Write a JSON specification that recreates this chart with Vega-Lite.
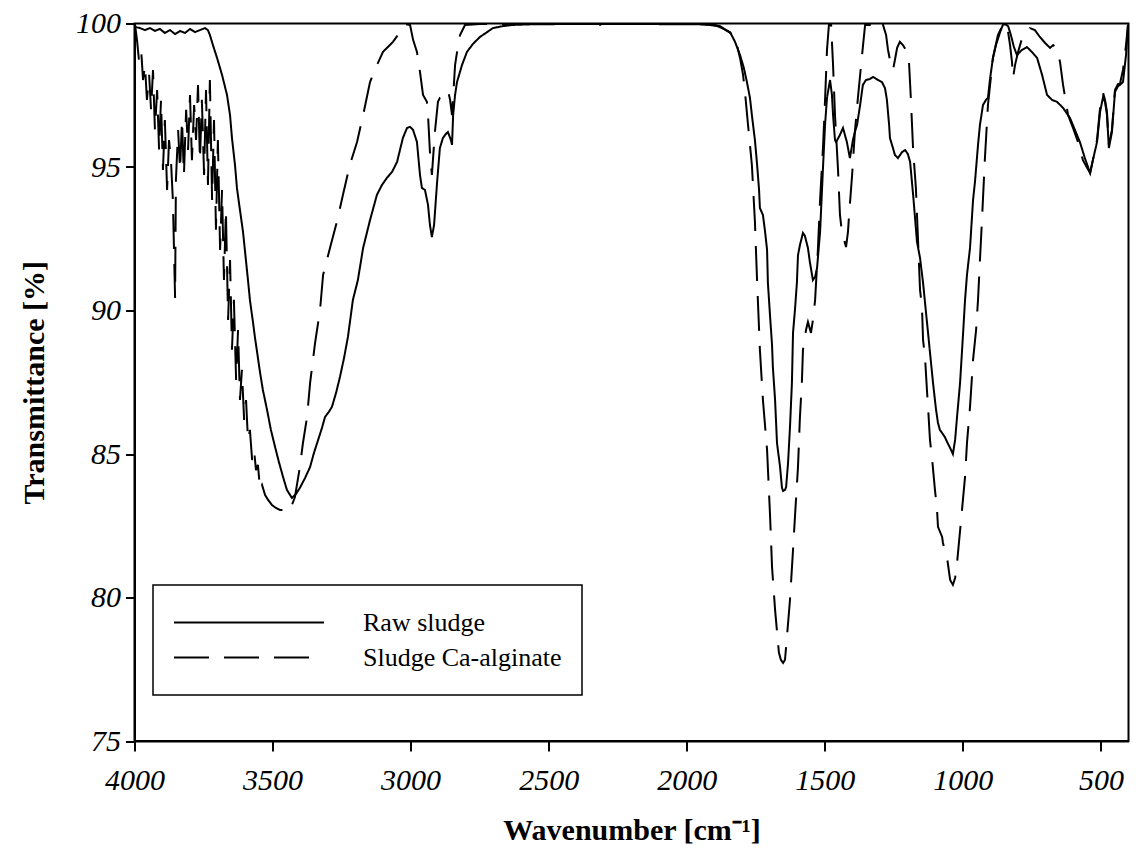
{
  "$schema": "https://vega.github.io/schema/vega-lite/v6.json",
  "width": 994,
  "height": 717.5,
  "autosize": {"type": "none"},
  "padding": {"left": 134.5, "top": 23.5, "right": 7.5, "bottom": 125},
  "config": {
    "font": "Liberation Serif",
    "view": {"stroke": "black", "strokeWidth": 2},
    "axis": {
      "grid": false,
      "domainColor": "black",
      "domainWidth": 2,
      "tickColor": "black",
      "tickWidth": 2,
      "labelColor": "black",
      "titleColor": "black",
      "labelFont": "Liberation Serif",
      "titleFont": "Liberation Serif",
      "labelFontStyle": "italic",
      "labelFontSize": 30,
      "titleFontSize": 30,
      "titleFontWeight": "bold",
      "labelFlush": false
    },
    "legend": {
      "strokeColor": "black",
      "strokeWidth": 1.5
    }
  },
  "data": {
    "values": [
      {"sample":"Raw sludge","wavenumber":3998,"transmittance":99.88},
      {"sample":"Raw sludge","wavenumber":3980,"transmittance":99.84},
      {"sample":"Raw sludge","wavenumber":3962,"transmittance":99.77},
      {"sample":"Raw sludge","wavenumber":3944,"transmittance":99.84},
      {"sample":"Raw sludge","wavenumber":3926,"transmittance":99.74},
      {"sample":"Raw sludge","wavenumber":3908,"transmittance":99.81},
      {"sample":"Raw sludge","wavenumber":3890,"transmittance":99.67},
      {"sample":"Raw sludge","wavenumber":3871,"transmittance":99.77},
      {"sample":"Raw sludge","wavenumber":3853,"transmittance":99.63},
      {"sample":"Raw sludge","wavenumber":3835,"transmittance":99.74},
      {"sample":"Raw sludge","wavenumber":3817,"transmittance":99.67},
      {"sample":"Raw sludge","wavenumber":3799,"transmittance":99.81},
      {"sample":"Raw sludge","wavenumber":3781,"transmittance":99.70},
      {"sample":"Raw sludge","wavenumber":3763,"transmittance":99.77},
      {"sample":"Raw sludge","wavenumber":3745,"transmittance":99.84},
      {"sample":"Raw sludge","wavenumber":3734,"transmittance":99.77},
      {"sample":"Raw sludge","wavenumber":3727,"transmittance":99.60},
      {"sample":"Raw sludge","wavenumber":3716,"transmittance":99.25},
      {"sample":"Raw sludge","wavenumber":3701,"transmittance":98.80},
      {"sample":"Raw sludge","wavenumber":3683,"transmittance":98.21},
      {"sample":"Raw sludge","wavenumber":3665,"transmittance":97.51},
      {"sample":"Raw sludge","wavenumber":3654,"transmittance":96.81},
      {"sample":"Raw sludge","wavenumber":3647,"transmittance":96.01},
      {"sample":"Raw sludge","wavenumber":3636,"transmittance":95.07},
      {"sample":"Raw sludge","wavenumber":3629,"transmittance":94.27},
      {"sample":"Raw sludge","wavenumber":3618,"transmittance":93.50},
      {"sample":"Raw sludge","wavenumber":3607,"transmittance":92.74},
      {"sample":"Raw sludge","wavenumber":3589,"transmittance":91.06},
      {"sample":"Raw sludge","wavenumber":3582,"transmittance":90.37},
      {"sample":"Raw sludge","wavenumber":3571,"transmittance":89.60},
      {"sample":"Raw sludge","wavenumber":3564,"transmittance":89.08},
      {"sample":"Raw sludge","wavenumber":3545,"transmittance":87.82},
      {"sample":"Raw sludge","wavenumber":3535,"transmittance":87.23},
      {"sample":"Raw sludge","wavenumber":3520,"transmittance":86.54},
      {"sample":"Raw sludge","wavenumber":3506,"transmittance":85.84},
      {"sample":"Raw sludge","wavenumber":3491,"transmittance":85.25},
      {"sample":"Raw sludge","wavenumber":3477,"transmittance":84.72},
      {"sample":"Raw sludge","wavenumber":3462,"transmittance":84.20},
      {"sample":"Raw sludge","wavenumber":3448,"transmittance":83.75},
      {"sample":"Raw sludge","wavenumber":3430,"transmittance":83.47},
      {"sample":"Raw sludge","wavenumber":3415,"transmittance":83.61},
      {"sample":"Raw sludge","wavenumber":3401,"transmittance":83.82},
      {"sample":"Raw sludge","wavenumber":3382,"transmittance":84.17},
      {"sample":"Raw sludge","wavenumber":3364,"transmittance":84.55},
      {"sample":"Raw sludge","wavenumber":3350,"transmittance":85.04},
      {"sample":"Raw sludge","wavenumber":3335,"transmittance":85.49},
      {"sample":"Raw sludge","wavenumber":3321,"transmittance":85.91},
      {"sample":"Raw sludge","wavenumber":3310,"transmittance":86.29},
      {"sample":"Raw sludge","wavenumber":3296,"transmittance":86.47},
      {"sample":"Raw sludge","wavenumber":3285,"transmittance":86.64},
      {"sample":"Raw sludge","wavenumber":3270,"transmittance":87.13},
      {"sample":"Raw sludge","wavenumber":3256,"transmittance":87.68},
      {"sample":"Raw sludge","wavenumber":3241,"transmittance":88.35},
      {"sample":"Raw sludge","wavenumber":3227,"transmittance":89.08},
      {"sample":"Raw sludge","wavenumber":3209,"transmittance":90.37},
      {"sample":"Raw sludge","wavenumber":3191,"transmittance":91.06},
      {"sample":"Raw sludge","wavenumber":3172,"transmittance":92.18},
      {"sample":"Raw sludge","wavenumber":3147,"transmittance":93.15},
      {"sample":"Raw sludge","wavenumber":3122,"transmittance":94.03},
      {"sample":"Raw sludge","wavenumber":3104,"transmittance":94.37},
      {"sample":"Raw sludge","wavenumber":3086,"transmittance":94.62},
      {"sample":"Raw sludge","wavenumber":3067,"transmittance":94.83},
      {"sample":"Raw sludge","wavenumber":3049,"transmittance":95.18},
      {"sample":"Raw sludge","wavenumber":3028,"transmittance":96.01},
      {"sample":"Raw sludge","wavenumber":3013,"transmittance":96.36},
      {"sample":"Raw sludge","wavenumber":3002,"transmittance":96.40},
      {"sample":"Raw sludge","wavenumber":2991,"transmittance":96.29},
      {"sample":"Raw sludge","wavenumber":2977,"transmittance":95.87},
      {"sample":"Raw sludge","wavenumber":2966,"transmittance":94.72},
      {"sample":"Raw sludge","wavenumber":2959,"transmittance":94.27},
      {"sample":"Raw sludge","wavenumber":2948,"transmittance":94.20},
      {"sample":"Raw sludge","wavenumber":2937,"transmittance":93.68},
      {"sample":"Raw sludge","wavenumber":2930,"transmittance":92.98},
      {"sample":"Raw sludge","wavenumber":2923,"transmittance":92.56},
      {"sample":"Raw sludge","wavenumber":2915,"transmittance":92.98},
      {"sample":"Raw sludge","wavenumber":2904,"transmittance":94.48},
      {"sample":"Raw sludge","wavenumber":2894,"transmittance":95.66},
      {"sample":"Raw sludge","wavenumber":2883,"transmittance":96.01},
      {"sample":"Raw sludge","wavenumber":2875,"transmittance":96.12},
      {"sample":"Raw sludge","wavenumber":2865,"transmittance":96.22},
      {"sample":"Raw sludge","wavenumber":2854,"transmittance":95.94},
      {"sample":"Raw sludge","wavenumber":2850,"transmittance":95.77},
      {"sample":"Raw sludge","wavenumber":2846,"transmittance":96.81},
      {"sample":"Raw sludge","wavenumber":2839,"transmittance":97.51},
      {"sample":"Raw sludge","wavenumber":2832,"transmittance":97.96},
      {"sample":"Raw sludge","wavenumber":2814,"transmittance":98.55},
      {"sample":"Raw sludge","wavenumber":2796,"transmittance":99.01},
      {"sample":"Raw sludge","wavenumber":2774,"transmittance":99.29},
      {"sample":"Raw sludge","wavenumber":2749,"transmittance":99.53},
      {"sample":"Raw sludge","wavenumber":2723,"transmittance":99.70},
      {"sample":"Raw sludge","wavenumber":2702,"transmittance":99.84},
      {"sample":"Raw sludge","wavenumber":2665,"transmittance":99.91},
      {"sample":"Raw sludge","wavenumber":2629,"transmittance":99.95},
      {"sample":"Raw sludge","wavenumber":2568,"transmittance":99.97},
      {"sample":"Raw sludge","wavenumber":2459,"transmittance":99.98},
      {"sample":"Raw sludge","wavenumber":2314,"transmittance":99.98},
      {"sample":"Raw sludge","wavenumber":2133,"transmittance":99.98},
      {"sample":"Raw sludge","wavenumber":1952,"transmittance":99.97},
      {"sample":"Raw sludge","wavenumber":1916,"transmittance":99.95},
      {"sample":"Raw sludge","wavenumber":1890,"transmittance":99.91},
      {"sample":"Raw sludge","wavenumber":1872,"transmittance":99.84},
      {"sample":"Raw sludge","wavenumber":1843,"transmittance":99.70},
      {"sample":"Raw sludge","wavenumber":1825,"transmittance":99.36},
      {"sample":"Raw sludge","wavenumber":1807,"transmittance":98.90},
      {"sample":"Raw sludge","wavenumber":1793,"transmittance":98.45},
      {"sample":"Raw sludge","wavenumber":1782,"transmittance":97.96},
      {"sample":"Raw sludge","wavenumber":1771,"transmittance":97.41},
      {"sample":"Raw sludge","wavenumber":1764,"transmittance":96.81},
      {"sample":"Raw sludge","wavenumber":1753,"transmittance":95.94},
      {"sample":"Raw sludge","wavenumber":1745,"transmittance":95.07},
      {"sample":"Raw sludge","wavenumber":1738,"transmittance":94.20},
      {"sample":"Raw sludge","wavenumber":1735,"transmittance":93.57},
      {"sample":"Raw sludge","wavenumber":1724,"transmittance":93.33},
      {"sample":"Raw sludge","wavenumber":1717,"transmittance":92.81},
      {"sample":"Raw sludge","wavenumber":1709,"transmittance":92.11},
      {"sample":"Raw sludge","wavenumber":1706,"transmittance":90.96},
      {"sample":"Raw sludge","wavenumber":1698,"transmittance":89.78},
      {"sample":"Raw sludge","wavenumber":1691,"transmittance":88.80},
      {"sample":"Raw sludge","wavenumber":1688,"transmittance":88.03},
      {"sample":"Raw sludge","wavenumber":1680,"transmittance":86.88},
      {"sample":"Raw sludge","wavenumber":1673,"transmittance":85.38},
      {"sample":"Raw sludge","wavenumber":1662,"transmittance":84.55},
      {"sample":"Raw sludge","wavenumber":1655,"transmittance":83.82},
      {"sample":"Raw sludge","wavenumber":1651,"transmittance":83.71},
      {"sample":"Raw sludge","wavenumber":1644,"transmittance":83.75},
      {"sample":"Raw sludge","wavenumber":1640,"transmittance":83.85},
      {"sample":"Raw sludge","wavenumber":1633,"transmittance":84.69},
      {"sample":"Raw sludge","wavenumber":1626,"transmittance":85.94},
      {"sample":"Raw sludge","wavenumber":1619,"transmittance":87.48},
      {"sample":"Raw sludge","wavenumber":1615,"transmittance":89.22},
      {"sample":"Raw sludge","wavenumber":1608,"transmittance":90.02},
      {"sample":"Raw sludge","wavenumber":1601,"transmittance":90.96},
      {"sample":"Raw sludge","wavenumber":1597,"transmittance":91.93},
      {"sample":"Raw sludge","wavenumber":1590,"transmittance":92.28},
      {"sample":"Raw sludge","wavenumber":1579,"transmittance":92.70},
      {"sample":"Raw sludge","wavenumber":1572,"transmittance":92.60},
      {"sample":"Raw sludge","wavenumber":1561,"transmittance":92.18},
      {"sample":"Raw sludge","wavenumber":1554,"transmittance":91.69},
      {"sample":"Raw sludge","wavenumber":1543,"transmittance":91.06},
      {"sample":"Raw sludge","wavenumber":1535,"transmittance":91.17},
      {"sample":"Raw sludge","wavenumber":1528,"transmittance":91.48},
      {"sample":"Raw sludge","wavenumber":1517,"transmittance":92.74},
      {"sample":"Raw sludge","wavenumber":1506,"transmittance":95.07},
      {"sample":"Raw sludge","wavenumber":1499,"transmittance":96.47},
      {"sample":"Raw sludge","wavenumber":1492,"transmittance":97.41},
      {"sample":"Raw sludge","wavenumber":1481,"transmittance":98.03},
      {"sample":"Raw sludge","wavenumber":1474,"transmittance":97.51},
      {"sample":"Raw sludge","wavenumber":1470,"transmittance":96.81},
      {"sample":"Raw sludge","wavenumber":1463,"transmittance":95.94},
      {"sample":"Raw sludge","wavenumber":1459,"transmittance":95.87},
      {"sample":"Raw sludge","wavenumber":1445,"transmittance":96.12},
      {"sample":"Raw sludge","wavenumber":1434,"transmittance":96.36},
      {"sample":"Raw sludge","wavenumber":1420,"transmittance":95.87},
      {"sample":"Raw sludge","wavenumber":1409,"transmittance":95.31},
      {"sample":"Raw sludge","wavenumber":1398,"transmittance":95.94},
      {"sample":"Raw sludge","wavenumber":1391,"transmittance":96.22},
      {"sample":"Raw sludge","wavenumber":1383,"transmittance":96.47},
      {"sample":"Raw sludge","wavenumber":1372,"transmittance":97.16},
      {"sample":"Raw sludge","wavenumber":1362,"transmittance":97.86},
      {"sample":"Raw sludge","wavenumber":1351,"transmittance":98.03},
      {"sample":"Raw sludge","wavenumber":1336,"transmittance":98.07},
      {"sample":"Raw sludge","wavenumber":1325,"transmittance":98.14},
      {"sample":"Raw sludge","wavenumber":1318,"transmittance":98.10},
      {"sample":"Raw sludge","wavenumber":1307,"transmittance":98.03},
      {"sample":"Raw sludge","wavenumber":1293,"transmittance":97.96},
      {"sample":"Raw sludge","wavenumber":1282,"transmittance":97.75},
      {"sample":"Raw sludge","wavenumber":1275,"transmittance":97.34},
      {"sample":"Raw sludge","wavenumber":1267,"transmittance":96.47},
      {"sample":"Raw sludge","wavenumber":1264,"transmittance":96.01},
      {"sample":"Raw sludge","wavenumber":1253,"transmittance":95.66},
      {"sample":"Raw sludge","wavenumber":1246,"transmittance":95.42},
      {"sample":"Raw sludge","wavenumber":1235,"transmittance":95.31},
      {"sample":"Raw sludge","wavenumber":1220,"transmittance":95.52},
      {"sample":"Raw sludge","wavenumber":1209,"transmittance":95.59},
      {"sample":"Raw sludge","wavenumber":1199,"transmittance":95.45},
      {"sample":"Raw sludge","wavenumber":1191,"transmittance":95.18},
      {"sample":"Raw sludge","wavenumber":1180,"transmittance":94.03},
      {"sample":"Raw sludge","wavenumber":1166,"transmittance":92.39},
      {"sample":"Raw sludge","wavenumber":1155,"transmittance":91.83},
      {"sample":"Raw sludge","wavenumber":1144,"transmittance":90.96},
      {"sample":"Raw sludge","wavenumber":1126,"transmittance":89.22},
      {"sample":"Raw sludge","wavenumber":1108,"transmittance":87.48},
      {"sample":"Raw sludge","wavenumber":1097,"transmittance":86.54},
      {"sample":"Raw sludge","wavenumber":1090,"transmittance":86.08},
      {"sample":"Raw sludge","wavenumber":1083,"transmittance":85.84},
      {"sample":"Raw sludge","wavenumber":1075,"transmittance":85.73},
      {"sample":"Raw sludge","wavenumber":1065,"transmittance":85.59},
      {"sample":"Raw sludge","wavenumber":1057,"transmittance":85.42},
      {"sample":"Raw sludge","wavenumber":1046,"transmittance":85.21},
      {"sample":"Raw sludge","wavenumber":1036,"transmittance":85.00},
      {"sample":"Raw sludge","wavenumber":1028,"transmittance":85.49},
      {"sample":"Raw sludge","wavenumber":1021,"transmittance":86.29},
      {"sample":"Raw sludge","wavenumber":1010,"transmittance":87.48},
      {"sample":"Raw sludge","wavenumber":999,"transmittance":89.22},
      {"sample":"Raw sludge","wavenumber":992,"transmittance":90.37},
      {"sample":"Raw sludge","wavenumber":985,"transmittance":91.24},
      {"sample":"Raw sludge","wavenumber":974,"transmittance":92.18},
      {"sample":"Raw sludge","wavenumber":963,"transmittance":93.85},
      {"sample":"Raw sludge","wavenumber":956,"transmittance":94.48},
      {"sample":"Raw sludge","wavenumber":945,"transmittance":95.77},
      {"sample":"Raw sludge","wavenumber":938,"transmittance":96.47},
      {"sample":"Raw sludge","wavenumber":927,"transmittance":97.16},
      {"sample":"Raw sludge","wavenumber":916,"transmittance":97.34},
      {"sample":"Raw sludge","wavenumber":909,"transmittance":97.41},
      {"sample":"Raw sludge","wavenumber":902,"transmittance":98.03},
      {"sample":"Raw sludge","wavenumber":891,"transmittance":98.80},
      {"sample":"Raw sludge","wavenumber":880,"transmittance":99.25},
      {"sample":"Raw sludge","wavenumber":865,"transmittance":99.70},
      {"sample":"Raw sludge","wavenumber":855,"transmittance":99.95},
      {"sample":"Raw sludge","wavenumber":847,"transmittance":99.98},
      {"sample":"Raw sludge","wavenumber":836,"transmittance":99.91},
      {"sample":"Raw sludge","wavenumber":826,"transmittance":99.60},
      {"sample":"Raw sludge","wavenumber":815,"transmittance":99.18},
      {"sample":"Raw sludge","wavenumber":804,"transmittance":98.90},
      {"sample":"Raw sludge","wavenumber":786,"transmittance":99.08},
      {"sample":"Raw sludge","wavenumber":768,"transmittance":99.18},
      {"sample":"Raw sludge","wavenumber":750,"transmittance":99.01},
      {"sample":"Raw sludge","wavenumber":731,"transmittance":98.80},
      {"sample":"Raw sludge","wavenumber":713,"transmittance":98.21},
      {"sample":"Raw sludge","wavenumber":695,"transmittance":97.51},
      {"sample":"Raw sludge","wavenumber":677,"transmittance":97.34},
      {"sample":"Raw sludge","wavenumber":659,"transmittance":97.27},
      {"sample":"Raw sludge","wavenumber":637,"transmittance":97.06},
      {"sample":"Raw sludge","wavenumber":612,"transmittance":96.71},
      {"sample":"Raw sludge","wavenumber":594,"transmittance":96.29},
      {"sample":"Raw sludge","wavenumber":576,"transmittance":95.87},
      {"sample":"Raw sludge","wavenumber":558,"transmittance":95.31},
      {"sample":"Raw sludge","wavenumber":539,"transmittance":94.79},
      {"sample":"Raw sludge","wavenumber":529,"transmittance":95.24},
      {"sample":"Raw sludge","wavenumber":514,"transmittance":95.87},
      {"sample":"Raw sludge","wavenumber":503,"transmittance":96.92},
      {"sample":"Raw sludge","wavenumber":492,"transmittance":97.44},
      {"sample":"Raw sludge","wavenumber":485,"transmittance":97.27},
      {"sample":"Raw sludge","wavenumber":478,"transmittance":96.81},
      {"sample":"Raw sludge","wavenumber":471,"transmittance":95.66},
      {"sample":"Raw sludge","wavenumber":460,"transmittance":96.22},
      {"sample":"Raw sludge","wavenumber":449,"transmittance":97.61},
      {"sample":"Raw sludge","wavenumber":438,"transmittance":97.82},
      {"sample":"Raw sludge","wavenumber":431,"transmittance":97.86},
      {"sample":"Raw sludge","wavenumber":420,"transmittance":97.96},
      {"sample":"Raw sludge","wavenumber":409,"transmittance":98.90},
      {"sample":"Raw sludge","wavenumber":402,"transmittance":99.91},

      {"sample":"Sludge Ca-alginate","wavenumber":3998,"transmittance":99.95},
      {"sample":"Sludge Ca-alginate","wavenumber":3991,"transmittance":99.43},
      {"sample":"Sludge Ca-alginate","wavenumber":3984,"transmittance":98.73},
      {"sample":"Sludge Ca-alginate","wavenumber":3976,"transmittance":99.08},
      {"sample":"Sludge Ca-alginate","wavenumber":3969,"transmittance":98.03},
      {"sample":"Sludge Ca-alginate","wavenumber":3962,"transmittance":98.55},
      {"sample":"Sludge Ca-alginate","wavenumber":3955,"transmittance":97.34},
      {"sample":"Sludge Ca-alginate","wavenumber":3947,"transmittance":98.21},
      {"sample":"Sludge Ca-alginate","wavenumber":3940,"transmittance":96.99},
      {"sample":"Sludge Ca-alginate","wavenumber":3933,"transmittance":98.38},
      {"sample":"Sludge Ca-alginate","wavenumber":3926,"transmittance":96.29},
      {"sample":"Sludge Ca-alginate","wavenumber":3918,"transmittance":97.68},
      {"sample":"Sludge Ca-alginate","wavenumber":3911,"transmittance":95.59},
      {"sample":"Sludge Ca-alginate","wavenumber":3904,"transmittance":97.34},
      {"sample":"Sludge Ca-alginate","wavenumber":3897,"transmittance":94.90},
      {"sample":"Sludge Ca-alginate","wavenumber":3890,"transmittance":96.64},
      {"sample":"Sludge Ca-alginate","wavenumber":3882,"transmittance":94.20},
      {"sample":"Sludge Ca-alginate","wavenumber":3875,"transmittance":95.94},
      {"sample":"Sludge Ca-alginate","wavenumber":3868,"transmittance":95.24},
      {"sample":"Sludge Ca-alginate","wavenumber":3861,"transmittance":93.85},
      {"sample":"Sludge Ca-alginate","wavenumber":3853,"transmittance":90.44},
      {"sample":"Sludge Ca-alginate","wavenumber":3850,"transmittance":94.55},
      {"sample":"Sludge Ca-alginate","wavenumber":3842,"transmittance":96.29},
      {"sample":"Sludge Ca-alginate","wavenumber":3835,"transmittance":94.90},
      {"sample":"Sludge Ca-alginate","wavenumber":3828,"transmittance":96.64},
      {"sample":"Sludge Ca-alginate","wavenumber":3821,"transmittance":94.72},
      {"sample":"Sludge Ca-alginate","wavenumber":3813,"transmittance":96.99},
      {"sample":"Sludge Ca-alginate","wavenumber":3806,"transmittance":95.59},
      {"sample":"Sludge Ca-alginate","wavenumber":3799,"transmittance":97.51},
      {"sample":"Sludge Ca-alginate","wavenumber":3792,"transmittance":95.24},
      {"sample":"Sludge Ca-alginate","wavenumber":3784,"transmittance":97.16},
      {"sample":"Sludge Ca-alginate","wavenumber":3777,"transmittance":95.94},
      {"sample":"Sludge Ca-alginate","wavenumber":3770,"transmittance":97.86},
      {"sample":"Sludge Ca-alginate","wavenumber":3763,"transmittance":95.24},
      {"sample":"Sludge Ca-alginate","wavenumber":3756,"transmittance":97.34},
      {"sample":"Sludge Ca-alginate","wavenumber":3748,"transmittance":94.72},
      {"sample":"Sludge Ca-alginate","wavenumber":3741,"transmittance":97.68},
      {"sample":"Sludge Ca-alginate","wavenumber":3734,"transmittance":94.37},
      {"sample":"Sludge Ca-alginate","wavenumber":3727,"transmittance":98.03},
      {"sample":"Sludge Ca-alginate","wavenumber":3719,"transmittance":93.85},
      {"sample":"Sludge Ca-alginate","wavenumber":3712,"transmittance":96.64},
      {"sample":"Sludge Ca-alginate","wavenumber":3705,"transmittance":92.81},
      {"sample":"Sludge Ca-alginate","wavenumber":3698,"transmittance":95.94},
      {"sample":"Sludge Ca-alginate","wavenumber":3690,"transmittance":92.11},
      {"sample":"Sludge Ca-alginate","wavenumber":3683,"transmittance":94.20},
      {"sample":"Sludge Ca-alginate","wavenumber":3676,"transmittance":91.06},
      {"sample":"Sludge Ca-alginate","wavenumber":3669,"transmittance":93.50},
      {"sample":"Sludge Ca-alginate","wavenumber":3661,"transmittance":89.67},
      {"sample":"Sludge Ca-alginate","wavenumber":3654,"transmittance":91.76},
      {"sample":"Sludge Ca-alginate","wavenumber":3647,"transmittance":88.63},
      {"sample":"Sludge Ca-alginate","wavenumber":3640,"transmittance":90.37},
      {"sample":"Sludge Ca-alginate","wavenumber":3632,"transmittance":87.58},
      {"sample":"Sludge Ca-alginate","wavenumber":3625,"transmittance":89.32},
      {"sample":"Sludge Ca-alginate","wavenumber":3618,"transmittance":86.88},
      {"sample":"Sludge Ca-alginate","wavenumber":3611,"transmittance":87.93},
      {"sample":"Sludge Ca-alginate","wavenumber":3603,"transmittance":86.19},
      {"sample":"Sludge Ca-alginate","wavenumber":3596,"transmittance":86.88},
      {"sample":"Sludge Ca-alginate","wavenumber":3589,"transmittance":85.49},
      {"sample":"Sludge Ca-alginate","wavenumber":3582,"transmittance":85.84},
      {"sample":"Sludge Ca-alginate","wavenumber":3574,"transmittance":84.79},
      {"sample":"Sludge Ca-alginate","wavenumber":3567,"transmittance":85.14},
      {"sample":"Sludge Ca-alginate","wavenumber":3560,"transmittance":84.44},
      {"sample":"Sludge Ca-alginate","wavenumber":3553,"transmittance":84.62},
      {"sample":"Sludge Ca-alginate","wavenumber":3545,"transmittance":83.75},
      {"sample":"Sludge Ca-alginate","wavenumber":3538,"transmittance":83.92},
      {"sample":"Sludge Ca-alginate","wavenumber":3527,"transmittance":83.57},
      {"sample":"Sludge Ca-alginate","wavenumber":3516,"transmittance":83.40},
      {"sample":"Sludge Ca-alginate","wavenumber":3502,"transmittance":83.22},
      {"sample":"Sludge Ca-alginate","wavenumber":3488,"transmittance":83.12},
      {"sample":"Sludge Ca-alginate","wavenumber":3473,"transmittance":83.05},
      {"sample":"Sludge Ca-alginate","wavenumber":3455,"transmittance":83.05},
      {"sample":"Sludge Ca-alginate","wavenumber":3444,"transmittance":82.98},
      {"sample":"Sludge Ca-alginate","wavenumber":3430,"transmittance":83.22},
      {"sample":"Sludge Ca-alginate","wavenumber":3419,"transmittance":83.50},
      {"sample":"Sludge Ca-alginate","wavenumber":3401,"transmittance":84.55},
      {"sample":"Sludge Ca-alginate","wavenumber":3390,"transmittance":85.38},
      {"sample":"Sludge Ca-alginate","wavenumber":3375,"transmittance":86.29},
      {"sample":"Sludge Ca-alginate","wavenumber":3364,"transmittance":87.48},
      {"sample":"Sludge Ca-alginate","wavenumber":3346,"transmittance":88.87},
      {"sample":"Sludge Ca-alginate","wavenumber":3328,"transmittance":90.02},
      {"sample":"Sludge Ca-alginate","wavenumber":3317,"transmittance":91.24},
      {"sample":"Sludge Ca-alginate","wavenumber":3292,"transmittance":92.18},
      {"sample":"Sludge Ca-alginate","wavenumber":3267,"transmittance":93.09},
      {"sample":"Sludge Ca-alginate","wavenumber":3245,"transmittance":94.03},
      {"sample":"Sludge Ca-alginate","wavenumber":3220,"transmittance":95.07},
      {"sample":"Sludge Ca-alginate","wavenumber":3194,"transmittance":95.87},
      {"sample":"Sludge Ca-alginate","wavenumber":3172,"transmittance":96.81},
      {"sample":"Sludge Ca-alginate","wavenumber":3147,"transmittance":97.96},
      {"sample":"Sludge Ca-alginate","wavenumber":3122,"transmittance":98.55},
      {"sample":"Sludge Ca-alginate","wavenumber":3100,"transmittance":99.01},
      {"sample":"Sludge Ca-alginate","wavenumber":3075,"transmittance":99.25},
      {"sample":"Sludge Ca-alginate","wavenumber":3064,"transmittance":99.36},
      {"sample":"Sludge Ca-alginate","wavenumber":3046,"transmittance":99.60},
      {"sample":"Sludge Ca-alginate","wavenumber":3031,"transmittance":99.88},
      {"sample":"Sludge Ca-alginate","wavenumber":3020,"transmittance":99.98},
      {"sample":"Sludge Ca-alginate","wavenumber":3002,"transmittance":99.95},
      {"sample":"Sludge Ca-alginate","wavenumber":2991,"transmittance":99.43},
      {"sample":"Sludge Ca-alginate","wavenumber":2977,"transmittance":99.01},
      {"sample":"Sludge Ca-alginate","wavenumber":2966,"transmittance":98.31},
      {"sample":"Sludge Ca-alginate","wavenumber":2955,"transmittance":97.51},
      {"sample":"Sludge Ca-alginate","wavenumber":2941,"transmittance":97.27},
      {"sample":"Sludge Ca-alginate","wavenumber":2937,"transmittance":96.81},
      {"sample":"Sludge Ca-alginate","wavenumber":2930,"transmittance":95.52},
      {"sample":"Sludge Ca-alginate","wavenumber":2923,"transmittance":94.72},
      {"sample":"Sludge Ca-alginate","wavenumber":2912,"transmittance":96.22},
      {"sample":"Sludge Ca-alginate","wavenumber":2901,"transmittance":97.27},
      {"sample":"Sludge Ca-alginate","wavenumber":2894,"transmittance":97.41},
      {"sample":"Sludge Ca-alginate","wavenumber":2879,"transmittance":97.51},
      {"sample":"Sludge Ca-alginate","wavenumber":2865,"transmittance":97.68},
      {"sample":"Sludge Ca-alginate","wavenumber":2857,"transmittance":97.34},
      {"sample":"Sludge Ca-alginate","wavenumber":2850,"transmittance":96.81},
      {"sample":"Sludge Ca-alginate","wavenumber":2839,"transmittance":98.55},
      {"sample":"Sludge Ca-alginate","wavenumber":2828,"transmittance":99.25},
      {"sample":"Sludge Ca-alginate","wavenumber":2821,"transmittance":99.60},
      {"sample":"Sludge Ca-alginate","wavenumber":2803,"transmittance":99.95},
      {"sample":"Sludge Ca-alginate","wavenumber":2749,"transmittance":99.98},
      {"sample":"Sludge Ca-alginate","wavenumber":2604,"transmittance":99.98},
      {"sample":"Sludge Ca-alginate","wavenumber":2459,"transmittance":99.98},
      {"sample":"Sludge Ca-alginate","wavenumber":2343,"transmittance":99.98},
      {"sample":"Sludge Ca-alginate","wavenumber":2332,"transmittance":99.84},
      {"sample":"Sludge Ca-alginate","wavenumber":2321,"transmittance":99.91},
      {"sample":"Sludge Ca-alginate","wavenumber":2310,"transmittance":99.98},
      {"sample":"Sludge Ca-alginate","wavenumber":2133,"transmittance":99.98},
      {"sample":"Sludge Ca-alginate","wavenumber":1952,"transmittance":99.98},
      {"sample":"Sludge Ca-alginate","wavenumber":1898,"transmittance":99.95},
      {"sample":"Sludge Ca-alginate","wavenumber":1879,"transmittance":99.91},
      {"sample":"Sludge Ca-alginate","wavenumber":1858,"transmittance":99.77},
      {"sample":"Sludge Ca-alginate","wavenumber":1832,"transmittance":99.60},
      {"sample":"Sludge Ca-alginate","wavenumber":1818,"transmittance":99.25},
      {"sample":"Sludge Ca-alginate","wavenumber":1807,"transmittance":98.80},
      {"sample":"Sludge Ca-alginate","wavenumber":1796,"transmittance":98.21},
      {"sample":"Sludge Ca-alginate","wavenumber":1789,"transmittance":97.61},
      {"sample":"Sludge Ca-alginate","wavenumber":1778,"transmittance":96.47},
      {"sample":"Sludge Ca-alginate","wavenumber":1771,"transmittance":95.77},
      {"sample":"Sludge Ca-alginate","wavenumber":1764,"transmittance":95.07},
      {"sample":"Sludge Ca-alginate","wavenumber":1753,"transmittance":93.09},
      {"sample":"Sludge Ca-alginate","wavenumber":1745,"transmittance":90.99},
      {"sample":"Sludge Ca-alginate","wavenumber":1735,"transmittance":88.63},
      {"sample":"Sludge Ca-alginate","wavenumber":1724,"transmittance":86.88},
      {"sample":"Sludge Ca-alginate","wavenumber":1709,"transmittance":85.14},
      {"sample":"Sludge Ca-alginate","wavenumber":1698,"transmittance":82.81},
      {"sample":"Sludge Ca-alginate","wavenumber":1691,"transmittance":81.06},
      {"sample":"Sludge Ca-alginate","wavenumber":1680,"transmittance":79.57},
      {"sample":"Sludge Ca-alginate","wavenumber":1666,"transmittance":78.07},
      {"sample":"Sludge Ca-alginate","wavenumber":1659,"transmittance":77.83},
      {"sample":"Sludge Ca-alginate","wavenumber":1651,"transmittance":77.72},
      {"sample":"Sludge Ca-alginate","wavenumber":1644,"transmittance":77.83},
      {"sample":"Sludge Ca-alginate","wavenumber":1637,"transmittance":78.63},
      {"sample":"Sludge Ca-alginate","wavenumber":1626,"transmittance":79.92},
      {"sample":"Sludge Ca-alginate","wavenumber":1615,"transmittance":81.66},
      {"sample":"Sludge Ca-alginate","wavenumber":1608,"transmittance":82.81},
      {"sample":"Sludge Ca-alginate","wavenumber":1597,"transmittance":84.55},
      {"sample":"Sludge Ca-alginate","wavenumber":1590,"transmittance":86.29},
      {"sample":"Sludge Ca-alginate","wavenumber":1583,"transmittance":87.48},
      {"sample":"Sludge Ca-alginate","wavenumber":1579,"transmittance":88.63},
      {"sample":"Sludge Ca-alginate","wavenumber":1568,"transmittance":89.32},
      {"sample":"Sludge Ca-alginate","wavenumber":1561,"transmittance":89.60},
      {"sample":"Sludge Ca-alginate","wavenumber":1550,"transmittance":89.22},
      {"sample":"Sludge Ca-alginate","wavenumber":1543,"transmittance":89.67},
      {"sample":"Sludge Ca-alginate","wavenumber":1535,"transmittance":90.37},
      {"sample":"Sludge Ca-alginate","wavenumber":1525,"transmittance":92.11},
      {"sample":"Sludge Ca-alginate","wavenumber":1517,"transmittance":93.85},
      {"sample":"Sludge Ca-alginate","wavenumber":1506,"transmittance":95.77},
      {"sample":"Sludge Ca-alginate","wavenumber":1499,"transmittance":97.34},
      {"sample":"Sludge Ca-alginate","wavenumber":1492,"transmittance":99.08},
      {"sample":"Sludge Ca-alginate","wavenumber":1485,"transmittance":99.95},
      {"sample":"Sludge Ca-alginate","wavenumber":1477,"transmittance":99.95},
      {"sample":"Sludge Ca-alginate","wavenumber":1470,"transmittance":98.55},
      {"sample":"Sludge Ca-alginate","wavenumber":1463,"transmittance":96.81},
      {"sample":"Sludge Ca-alginate","wavenumber":1452,"transmittance":94.90},
      {"sample":"Sludge Ca-alginate","wavenumber":1445,"transmittance":93.33},
      {"sample":"Sludge Ca-alginate","wavenumber":1438,"transmittance":92.74},
      {"sample":"Sludge Ca-alginate","wavenumber":1430,"transmittance":92.46},
      {"sample":"Sludge Ca-alginate","wavenumber":1423,"transmittance":92.21},
      {"sample":"Sludge Ca-alginate","wavenumber":1416,"transmittance":92.74},
      {"sample":"Sludge Ca-alginate","wavenumber":1412,"transmittance":93.33},
      {"sample":"Sludge Ca-alginate","wavenumber":1401,"transmittance":94.72},
      {"sample":"Sludge Ca-alginate","wavenumber":1391,"transmittance":96.22},
      {"sample":"Sludge Ca-alginate","wavenumber":1380,"transmittance":97.41},
      {"sample":"Sludge Ca-alginate","wavenumber":1365,"transmittance":98.90},
      {"sample":"Sludge Ca-alginate","wavenumber":1354,"transmittance":99.95},
      {"sample":"Sludge Ca-alginate","wavenumber":1336,"transmittance":99.95},
      {"sample":"Sludge Ca-alginate","wavenumber":1322,"transmittance":99.84},
      {"sample":"Sludge Ca-alginate","wavenumber":1311,"transmittance":99.77},
      {"sample":"Sludge Ca-alginate","wavenumber":1300,"transmittance":99.88},
      {"sample":"Sludge Ca-alginate","wavenumber":1289,"transmittance":99.95},
      {"sample":"Sludge Ca-alginate","wavenumber":1278,"transmittance":99.60},
      {"sample":"Sludge Ca-alginate","wavenumber":1271,"transmittance":99.08},
      {"sample":"Sludge Ca-alginate","wavenumber":1264,"transmittance":98.73},
      {"sample":"Sludge Ca-alginate","wavenumber":1253,"transmittance":98.38},
      {"sample":"Sludge Ca-alginate","wavenumber":1246,"transmittance":98.73},
      {"sample":"Sludge Ca-alginate","wavenumber":1238,"transmittance":99.15},
      {"sample":"Sludge Ca-alginate","wavenumber":1228,"transmittance":99.36},
      {"sample":"Sludge Ca-alginate","wavenumber":1217,"transmittance":99.25},
      {"sample":"Sludge Ca-alginate","wavenumber":1202,"transmittance":99.01},
      {"sample":"Sludge Ca-alginate","wavenumber":1195,"transmittance":98.66},
      {"sample":"Sludge Ca-alginate","wavenumber":1188,"transmittance":97.34},
      {"sample":"Sludge Ca-alginate","wavenumber":1180,"transmittance":95.59},
      {"sample":"Sludge Ca-alginate","wavenumber":1170,"transmittance":94.27},
      {"sample":"Sludge Ca-alginate","wavenumber":1162,"transmittance":92.39},
      {"sample":"Sludge Ca-alginate","wavenumber":1155,"transmittance":90.72},
      {"sample":"Sludge Ca-alginate","wavenumber":1148,"transmittance":90.12},
      {"sample":"Sludge Ca-alginate","wavenumber":1144,"transmittance":88.97},
      {"sample":"Sludge Ca-alginate","wavenumber":1137,"transmittance":88.38},
      {"sample":"Sludge Ca-alginate","wavenumber":1130,"transmittance":87.23},
      {"sample":"Sludge Ca-alginate","wavenumber":1126,"transmittance":86.64},
      {"sample":"Sludge Ca-alginate","wavenumber":1119,"transmittance":85.49},
      {"sample":"Sludge Ca-alginate","wavenumber":1112,"transmittance":84.90},
      {"sample":"Sludge Ca-alginate","wavenumber":1101,"transmittance":83.75},
      {"sample":"Sludge Ca-alginate","wavenumber":1094,"transmittance":83.15},
      {"sample":"Sludge Ca-alginate","wavenumber":1090,"transmittance":82.46},
      {"sample":"Sludge Ca-alginate","wavenumber":1075,"transmittance":82.11},
      {"sample":"Sludge Ca-alginate","wavenumber":1072,"transmittance":81.90},
      {"sample":"Sludge Ca-alginate","wavenumber":1057,"transmittance":81.38},
      {"sample":"Sludge Ca-alginate","wavenumber":1046,"transmittance":80.61},
      {"sample":"Sludge Ca-alginate","wavenumber":1036,"transmittance":80.44},
      {"sample":"Sludge Ca-alginate","wavenumber":1028,"transmittance":80.68},
      {"sample":"Sludge Ca-alginate","wavenumber":1021,"transmittance":81.20},
      {"sample":"Sludge Ca-alginate","wavenumber":1003,"transmittance":83.05},
      {"sample":"Sludge Ca-alginate","wavenumber":992,"transmittance":84.20},
      {"sample":"Sludge Ca-alginate","wavenumber":985,"transmittance":85.38},
      {"sample":"Sludge Ca-alginate","wavenumber":974,"transmittance":86.64},
      {"sample":"Sludge Ca-alginate","wavenumber":967,"transmittance":87.68},
      {"sample":"Sludge Ca-alginate","wavenumber":963,"transmittance":88.28},
      {"sample":"Sludge Ca-alginate","wavenumber":952,"transmittance":89.32},
      {"sample":"Sludge Ca-alginate","wavenumber":945,"transmittance":90.37},
      {"sample":"Sludge Ca-alginate","wavenumber":938,"transmittance":91.76},
      {"sample":"Sludge Ca-alginate","wavenumber":931,"transmittance":93.09},
      {"sample":"Sludge Ca-alginate","wavenumber":920,"transmittance":95.31},
      {"sample":"Sludge Ca-alginate","wavenumber":909,"transmittance":97.16},
      {"sample":"Sludge Ca-alginate","wavenumber":891,"transmittance":98.80},
      {"sample":"Sludge Ca-alginate","wavenumber":873,"transmittance":99.60},
      {"sample":"Sludge Ca-alginate","wavenumber":855,"transmittance":99.95},
      {"sample":"Sludge Ca-alginate","wavenumber":840,"transmittance":99.95},
      {"sample":"Sludge Ca-alginate","wavenumber":829,"transmittance":99.25},
      {"sample":"Sludge Ca-alginate","wavenumber":822,"transmittance":98.66},
      {"sample":"Sludge Ca-alginate","wavenumber":818,"transmittance":98.10},
      {"sample":"Sludge Ca-alginate","wavenumber":811,"transmittance":98.55},
      {"sample":"Sludge Ca-alginate","wavenumber":800,"transmittance":99.01},
      {"sample":"Sludge Ca-alginate","wavenumber":782,"transmittance":99.60},
      {"sample":"Sludge Ca-alginate","wavenumber":757,"transmittance":99.84},
      {"sample":"Sludge Ca-alginate","wavenumber":739,"transmittance":99.77},
      {"sample":"Sludge Ca-alginate","wavenumber":721,"transmittance":99.53},
      {"sample":"Sludge Ca-alginate","wavenumber":702,"transmittance":99.32},
      {"sample":"Sludge Ca-alginate","wavenumber":684,"transmittance":99.15},
      {"sample":"Sludge Ca-alginate","wavenumber":673,"transmittance":99.25},
      {"sample":"Sludge Ca-alginate","wavenumber":659,"transmittance":99.15},
      {"sample":"Sludge Ca-alginate","wavenumber":648,"transmittance":98.66},
      {"sample":"Sludge Ca-alginate","wavenumber":637,"transmittance":97.86},
      {"sample":"Sludge Ca-alginate","wavenumber":619,"transmittance":96.81},
      {"sample":"Sludge Ca-alginate","wavenumber":601,"transmittance":96.36},
      {"sample":"Sludge Ca-alginate","wavenumber":583,"transmittance":95.87},
      {"sample":"Sludge Ca-alginate","wavenumber":565,"transmittance":95.24},
      {"sample":"Sludge Ca-alginate","wavenumber":550,"transmittance":94.97},
      {"sample":"Sludge Ca-alginate","wavenumber":539,"transmittance":94.79},
      {"sample":"Sludge Ca-alginate","wavenumber":529,"transmittance":95.24},
      {"sample":"Sludge Ca-alginate","wavenumber":514,"transmittance":95.94},
      {"sample":"Sludge Ca-alginate","wavenumber":503,"transmittance":97.06},
      {"sample":"Sludge Ca-alginate","wavenumber":492,"transmittance":97.58},
      {"sample":"Sludge Ca-alginate","wavenumber":485,"transmittance":97.34},
      {"sample":"Sludge Ca-alginate","wavenumber":478,"transmittance":96.92},
      {"sample":"Sludge Ca-alginate","wavenumber":471,"transmittance":95.77},
      {"sample":"Sludge Ca-alginate","wavenumber":460,"transmittance":96.29},
      {"sample":"Sludge Ca-alginate","wavenumber":449,"transmittance":97.68},
      {"sample":"Sludge Ca-alginate","wavenumber":438,"transmittance":97.89},
      {"sample":"Sludge Ca-alginate","wavenumber":431,"transmittance":97.89},
      {"sample":"Sludge Ca-alginate","wavenumber":420,"transmittance":98.38},
      {"sample":"Sludge Ca-alginate","wavenumber":409,"transmittance":99.25},
      {"sample":"Sludge Ca-alginate","wavenumber":402,"transmittance":99.95}
    ]
  },
  "mark": {"type": "line", "color": "black", "strokeWidth": 2, "clip": true},
  "encoding": {
    "x": {
      "field": "wavenumber",
      "type": "quantitative",
      "scale": {"domain": [4000, 400], "nice": false, "zero": false},
      "axis": {
        "title": "Wavenumber [cm⁻¹]",
        "values": [4000, 3500, 3000, 2500, 2000, 1500, 1000, 500],
        "format": "d",
        "tickSize": 10,
        "labelPadding": 14,
        "titlePadding": 20,
        "labelFlush": false
      }
    },
    "y": {
      "field": "transmittance",
      "type": "quantitative",
      "scale": {"domain": [75, 100], "nice": false, "zero": false},
      "axis": {
        "title": "Transmittance [%]",
        "values": [75, 80, 85, 90, 95, 100],
        "format": "d",
        "tickSize": 9,
        "labelPadding": 5,
        "titlePadding": 26,
        "labelFlush": false
      }
    },
    "strokeDash": {
      "field": "sample",
      "type": "nominal",
      "scale": {"domain": ["Raw sludge", "Sludge Ca-alginate"], "range": [[1, 0], [35, 15]]},
      "legend": {
        "title": null,
        "orient": "none",
        "legendX": 18.5,
        "legendY": 561.5,
        "symbolType": "stroke",
        "symbolSize": 22500,
        "symbolStrokeWidth": 2,
        "symbolStrokeColor": "black",
        "clipHeight": 35,
        "rowPadding": 0,
        "labelOffset": 38,
        "labelLimit": 0,
        "labelFont": "Liberation Serif",
        "labelFontSize": 26,
        "labelColor": "black",
        "padding": 20,
        "strokeColor": "black"
      }
    }
  }
}
